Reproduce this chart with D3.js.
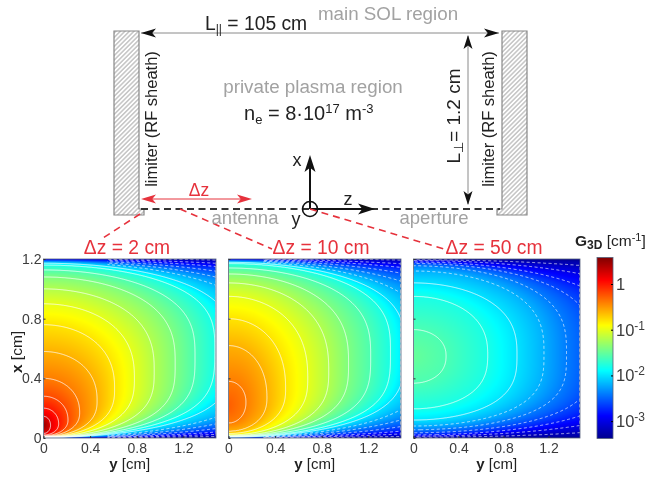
<!DOCTYPE html>
<html><head><meta charset="utf-8">
<script src="https://cdn.jsdelivr.net/npm/d3@7"></script>
<style>
html,body{margin:0;padding:0;background:#fff;overflow:hidden}
svg{display:block;filter:blur(0.35px)}
text{font-family:"Liberation Sans",Arial,sans-serif}
</style></head><body>
<svg id="c" width="646" height="477"></svg>
<script>
// ---- contours ----
// each row: log10(G3D) level, furthest reach in y, x where it meets y=0 above, x at its furthest reach, x where it meets the bottom
const contoursDz2 = [
[-3.4,12,1.21,.6,0],[-3.2,6,1.205,.6,.0003],[-3,4,1.2,.6,.0007],[-2.8,3.2,1.196,.6,.001],
[-2.6,2.6,1.191,.6,.0015],[-2.4,2.2,1.186,.6,.002],[-2.2,1.9,1.18,.6,.003],[-2,1.62,1.172,.6,.004],
[-1.8,1.47,1.16,.6,.005],[-1.6,1.3,1.127,.55,.005],[-1.4,1.13,1.08,.5,.005],[-1.2,.95,1,.45,.006],
[-1,.78,.9,.4,.007],[-.8,.61,.76,.33,.008],[-.6,.46,.58,.25,.01],[-.4,.31,.4,.17,.012],
[-.2,.21,.28,.12,.015],[0,.13,.2,.095,.02],[.2,.06,.145,.085,.03],[.5,.001,.09,.085,.08]];
const contoursDz10 = [
[-3.4,12,1.21,.6,0],[-3.2,6,1.205,.6,.0003],[-3,3.8,1.2,.6,.0007],[-2.8,3,1.197,.6,.0012],
[-2.6,2.4,1.193,.6,.002],[-2.4,2,1.189,.6,.003],[-2.2,1.72,1.184,.6,.004],[-2,1.51,1.178,.6,.006],
[-1.8,1.39,1.17,.58,.008],[-1.6,1.22,1.14,.55,.01],[-1.4,1.03,1.1,.5,.012],[-1.2,.86,1.04,.45,.015],
[-1,.68,.95,.4,.02],[-.8,.49,.8,.33,.03],[-.6,.33,.62,.27,.045],[-.4,.15,.38,.24,.1],[-.28,.001,.23,.22,.2]];
const contoursDz50 = [
[-3.4,10,1.2,.6,0],[-3.2,3.5,1.195,.59,.005],[-3,2.4,1.19,.59,.012],[-2.8,1.9,1.18,.58,.02],
[-2.6,1.6,1.17,.58,.035],[-2.4,1.36,1.155,.57,.055],[-2.2,1.16,1.12,.57,.08],[-2,.92,1.04,.56,.12],
[-1.8,.66,.95,.56,.195],[-1.6,.29,.727,.55,.367],[-1.5,.001,.555,.55,.54]];
const contourLevels = [.2,0,-.2,-.4,-.6,-.8,-1,-1.2,-1.4,-1.6,-1.8,-2,-2.2,-2.4,-2.6,-2.8,-3,-3.2];
const panelTitles = ["Δz = 2 cm","Δz = 10 cm","Δz = 50 cm"];
const axisTicks = [0,.4,.8,1.2];
const cbarDecades = [0,-1,-2,-3];
const logExtent = [-3.38,.58];

const svg = d3.select("#c");
const RED="#e6323c", GREY="#a2a2a2", INK="#222", TICK="#3c3c3c";

const jetStops=[[0,"#00008f"],[.125,"#0000ff"],[.375,"#00ffff"],[.625,"#ffff00"],[.875,"#ff0000"],[1,"#800000"]];
const jet=d3.scaleLinear().domain(jetStops.map(d=>d[0])).range(jetStops.map(d=>d[1])).clamp(true);
const colorOf=d3.scaleLinear().domain(logExtent).range([0,1]);

const panels=[
 {table:contoursDz2, left:43.5,right:216,title:panelTitles[0],tx:127,leftLabels:true,dashFrom:.55},
 {table:contoursDz10,left:228.5,right:401,title:panelTitles[1],tx:321,dashFrom:.3},
 {table:contoursDz50,left:413.5,right:580,title:panelTitles[2],tx:494,dashFrom:0}];
const top_=259,bot=438;
const xS=d3.scaleLinear().domain([0,1.2]).range([bot,top_]);
const defs=svg.append("defs");

function inside(c,x,y){
  const ym=c[1],xt=c[2],xm=c[3],xb=c[4];
  if(y>=ym) return false;
  const r=y/ym,k=1-r*r,e=Math.min(ym,1.5);
  if(x>=xm) return x<=xm+(xt-xm)*Math.pow(k,1/(2+e*.65));
  return x>=xm-(xm-xb)*Math.pow(k,1/(2+e*1.05));
}
function levelAt(T,x,y){
  const n=T.length-1,mix=t=>{const i=Math.min(Math.floor(t),n-1),f=t-i;return T[i].map((v,j)=>v+(T[i+1][j]-v)*f);};
  if(!inside(T[0],x,y)) return T[0][0];
  let lo=0,hi=n;
  for(let it=0;it<13;it++){const m=(lo+hi)/2;if(inside(mix(m),x,y))lo=m;else hi=m;}
  return mix(lo)[0];
}
function bitmap(w,h,fn){
  const cv=document.createElement("canvas");cv.width=w;cv.height=h;
  const ctx=cv.getContext("2d"),im=ctx.createImageData(w,h);
  for(let j=0;j<h;j++)for(let i=0;i<w;i++){
    const k=d3.rgb(fn(i,j)),o=(j*w+i)*4;
    im.data[o]=k.r;im.data[o+1]=k.g;im.data[o+2]=k.b;im.data[o+3]=255;
  }
  ctx.putImageData(im,0,0);return cv.toDataURL();
}
panels.forEach((p,pi)=>{
  const yS=d3.scaleLinear().domain([0,1.48]).range([p.left,p.right]);
  const W=p.right-p.left,H=bot-top_,SS=2,w=Math.round(W*SS),h=H*SS;
  const field=new Float64Array(w*h);
  for(let j=0;j<h;j++){
    const xv=xS.invert(top_+(j+.5)/SS);
    for(let i=0;i<w;i++) field[j*w+i]=levelAt(p.table,xv,yS.invert(p.left+(i+.5)/SS));
  }
  svg.append("image").attr("x",p.left).attr("y",top_).attr("width",W).attr("height",H)
    .attr("preserveAspectRatio","none")
    .attr("href",bitmap(w,h,(i,j)=>jet(colorOf(field[j*w+i]))));
  defs.append("clipPath").attr("id","clip"+pi).append("rect")
    .attr("x",p.left).attr("y",top_).attr("width",W).attr("height",H);
  defs.append("clipPath").attr("id","clipd"+pi).append("rect")
    .attr("x",yS(p.dashFrom)).attr("y",top_).attr("width",p.right-yS(p.dashFrom)).attr("height",H);
  const contours=d3.contours().size([w,h]).thresholds(contourLevels)(Array.from(field)).filter(c=>c.coordinates.length);
  const path=d3.geoPath(d3.geoTransform({point(cx,cy){this.stream.point(p.left+cx*W/w,top_+cy*H/h);}}));
  svg.append("g").attr("clip-path",`url(#clip${pi})`).selectAll("path").data(contours.filter(c=>c.value>=-2.01)).join("path")
    .attr("d",path).attr("fill","none").attr("stroke","#fff").attr("stroke-opacity",.8).attr("stroke-width",1);
  svg.append("g").attr("clip-path",`url(#clipd${pi})`).selectAll("path").data(contours.filter(c=>c.value<-2.01)).join("path")
    .attr("d",path).attr("fill","none").attr("stroke","#fff").attr("stroke-opacity",.7).attr("stroke-width",1).attr("stroke-dasharray","3 2.5");
  svg.append("rect").attr("x",p.left).attr("y",top_).attr("width",W).attr("height",H)
    .attr("fill","none").attr("stroke","#55607a").attr("stroke-width",.8);
  const fmt=d=>d===0?"0":String(d);
  const ax=svg.append("g").attr("transform",`translate(0,${bot})`)
    .call(d3.axisBottom(yS).tickValues(axisTicks).tickFormat(fmt).tickSizeInner(-2).tickSizeOuter(0).tickPadding(5));
  ax.select(".domain").remove();
  ax.selectAll("text").attr("font-size",14).attr("fill",TICK).attr("font-family",null);
  ax.selectAll("line").attr("stroke","#333");
  const ay=svg.append("g").attr("transform",`translate(${p.left},0)`)
    .call(d3.axisLeft(xS).tickValues(axisTicks).tickFormat(p.leftLabels?fmt:"").tickSizeInner(-2).tickSizeOuter(0).tickPadding(2));
  ay.select(".domain").remove();
  ay.selectAll("text").attr("font-size",14).attr("fill",TICK);
  ay.selectAll("line").attr("stroke","#333");
  const lab=svg.append("text").attr("x",(p.left+p.right)/2).attr("y",469).attr("text-anchor","middle").attr("font-size",15).attr("fill",INK);
  lab.append("tspan").attr("font-weight","bold").text("y");
  lab.append("tspan").text(" [cm]");
  svg.append("text").attr("x",p.tx).attr("y",254).attr("text-anchor","middle").attr("font-size",19.3).attr("fill",RED).text(p.title);
});
const xl=svg.append("text").attr("transform","translate(22,352) rotate(-90)").attr("text-anchor","middle").attr("font-size",15.5).attr("fill",INK);
xl.append("tspan").attr("font-weight","bold").text("x");xl.append("tspan").text(" [cm]");

// ---- colour bar ----
const cb={l:597,r:613,t:257.5,b:438.5};
const cS=d3.scaleLinear().domain(logExtent).range([cb.b,cb.t]);
svg.append("image").attr("x",cb.l).attr("y",cb.t).attr("width",cb.r-cb.l).attr("height",cb.b-cb.t).attr("preserveAspectRatio","none")
  .attr("href",bitmap(4,181,(i,j)=>jet(colorOf(cS.invert(cb.t+j+.5)))));
svg.append("rect").attr("x",cb.l).attr("y",cb.t).attr("width",cb.r-cb.l).attr("height",cb.b-cb.t).attr("fill","none").attr("stroke","#55607a").attr("stroke-width",.8);
const cbAxis=svg.append("g").attr("transform",`translate(${cb.r},0)`)
  .call(d3.axisRight(cS).tickValues(cbarDecades).tickFormat("").tickSizeInner(-2).tickSizeOuter(0));
cbAxis.select(".domain").remove();
cbarDecades.forEach(d=>{
  const t=svg.append("text").attr("x",616).attr("y",cS(d)+6).attr("font-size",16.5).attr("fill",TICK);
  if(d===0){t.text("1");return;}
  t.append("tspan").text("10");
  t.append("tspan").attr("dy",-6).attr("font-size",12).text(String(d));
});
const gt=svg.append("text").attr("x",575).attr("y",246).attr("font-size",15.5).attr("fill",INK);
gt.append("tspan").attr("font-weight","bold").text("G");
gt.append("tspan").attr("font-weight","bold").attr("font-size",12).attr("dy",3).text("3D");
gt.append("tspan").attr("dy",-3).text(" [cm");
gt.append("tspan").attr("dy",-5).attr("font-size",11).text("-1");
gt.append("tspan").attr("dy",5).text("]");

// ---- geometry sketch ----
const pat=defs.append("pattern").attr("id","hatch").attr("width",3.2).attr("height",3.2).attr("patternUnits","userSpaceOnUse").attr("patternTransform","rotate(-45)");
pat.append("rect").attr("width",3.2).attr("height",3.2).attr("fill","#fff");
pat.append("line").attr("x1",0).attr("x2",3.2).attr("y1",1.6).attr("y2",1.6).attr("stroke","#a8a8a8").attr("stroke-width",1);
const line=d3.line();
svg.append("path").attr("d",line([[114,31],[139,31],[139,209],[144,209],[144,215],[114,215]])+"Z").attr("fill","url(#hatch)").attr("stroke","#888").attr("stroke-width",1.2);
svg.append("path").attr("d",line([[527,31],[502,31],[502,209],[497,209],[497,215],[527,215]])+"Z").attr("fill","url(#hatch)").attr("stroke","#888").attr("stroke-width",1.2);

function head(x,y,dx,dy,len,wid,col){
  svg.append("path").attr("d",line([[x,y],[x-dx*len-dy*wid,y-dy*len-dx*wid],[x-dx*len*.75,y-dy*len*.75],[x-dx*len+dy*wid,y-dy*len+dx*wid]])+"Z").attr("fill",col);
}
function seg(x1,y1,x2,y2,col,w,dash){
  svg.append("line").attr("x1",x1).attr("y1",y1).attr("x2",x2).attr("y2",y2).attr("stroke",col).attr("stroke-width",w).attr("stroke-dasharray",dash||null);
}
seg(141,33,499,33,"#8a8a8a",1);
head(141,33,-1,0,15,4.5,"#111");head(499,33,1,0,15,4.5,"#111");
seg(468,36,468,204,"#8a8a8a",1);
head(468,35,0,-1,14,4.5,"#111");head(468,205,0,1,14,4.5,"#111");
seg(141,209,500,209,"#333",2,"7 4.5");
seg(310,209,310,168,"#111",2);head(310,155,0,-1,17,5.5,"#111");
seg(310,209,362,209,"#111",2);head(375,209,1,0,17,5.5,"#111");
svg.append("circle").attr("cx",310).attr("cy",209).attr("r",7.5).attr("fill","none").attr("stroke","#111").attr("stroke-width",1.6);
seg(146,199,246,199,RED,1);
head(141,199,-1,0,15,4.5,RED);head(252,199,1,0,15,4.5,RED);
seg(140,214,103,238,RED,1.6,"7 5");
seg(180,209,272,249,RED,1.6,"7 5");
seg(310,209,444,249,RED,1.6,"7 5");

function label(x,y,size,col,txt,rot){
  const t=svg.append("text").attr("font-size",size).attr("fill",col).attr("text-anchor","middle");
  if(rot) t.attr("transform",`translate(${x},${y}) rotate(-90)`); else t.attr("x",x).attr("y",y);
  t.text(txt);return t;
}
const lpar=svg.append("text").attr("x",205).attr("y",30).attr("font-size",19.3).attr("fill",INK);
lpar.append("tspan").text("L");
lpar.append("tspan").attr("font-size",12).attr("dy",3).text("||");
lpar.append("tspan").attr("dy",-3).text(" = 105 cm");
label(388,20,18.8,GREY,"main SOL region");
label(313,93,18.8,GREY,"private plasma region");
const ne=svg.append("text").attr("x",244).attr("y",120).attr("font-size",20).attr("fill",INK);
ne.append("tspan").text("n");
ne.append("tspan").attr("font-size",13).attr("dy",4).text("e");
ne.append("tspan").attr("dy",-4).text(" = 8·10");
ne.append("tspan").attr("font-size",13).attr("dy",-7).text("17");
ne.append("tspan").attr("dy",7).text(" m");
ne.append("tspan").attr("font-size",13).attr("dy",-7).text("-3");
label(157,119,16.5,INK,"limiter (RF sheath)",true);
label(494,119,16.5,INK,"limiter (RF sheath)",true);
const lperp=svg.append("text").attr("transform","translate(460,116) rotate(-90)").attr("text-anchor","middle").attr("font-size",19).attr("fill",INK);
lperp.append("tspan").text("L");
lperp.append("tspan").attr("font-size",13).attr("dy",3).text("⊥");
lperp.append("tspan").attr("dy",-3).text("= 1.2 cm");
label(297,166,18,INK,"x");
label(348,205,18,INK,"z");
label(296,225,18,INK,"y");
label(245,224,18.5,GREY,"antenna");
label(434,224,18.5,GREY,"aperture");
label(199,196,17.5,RED,"Δz");
</script>
</body></html>
